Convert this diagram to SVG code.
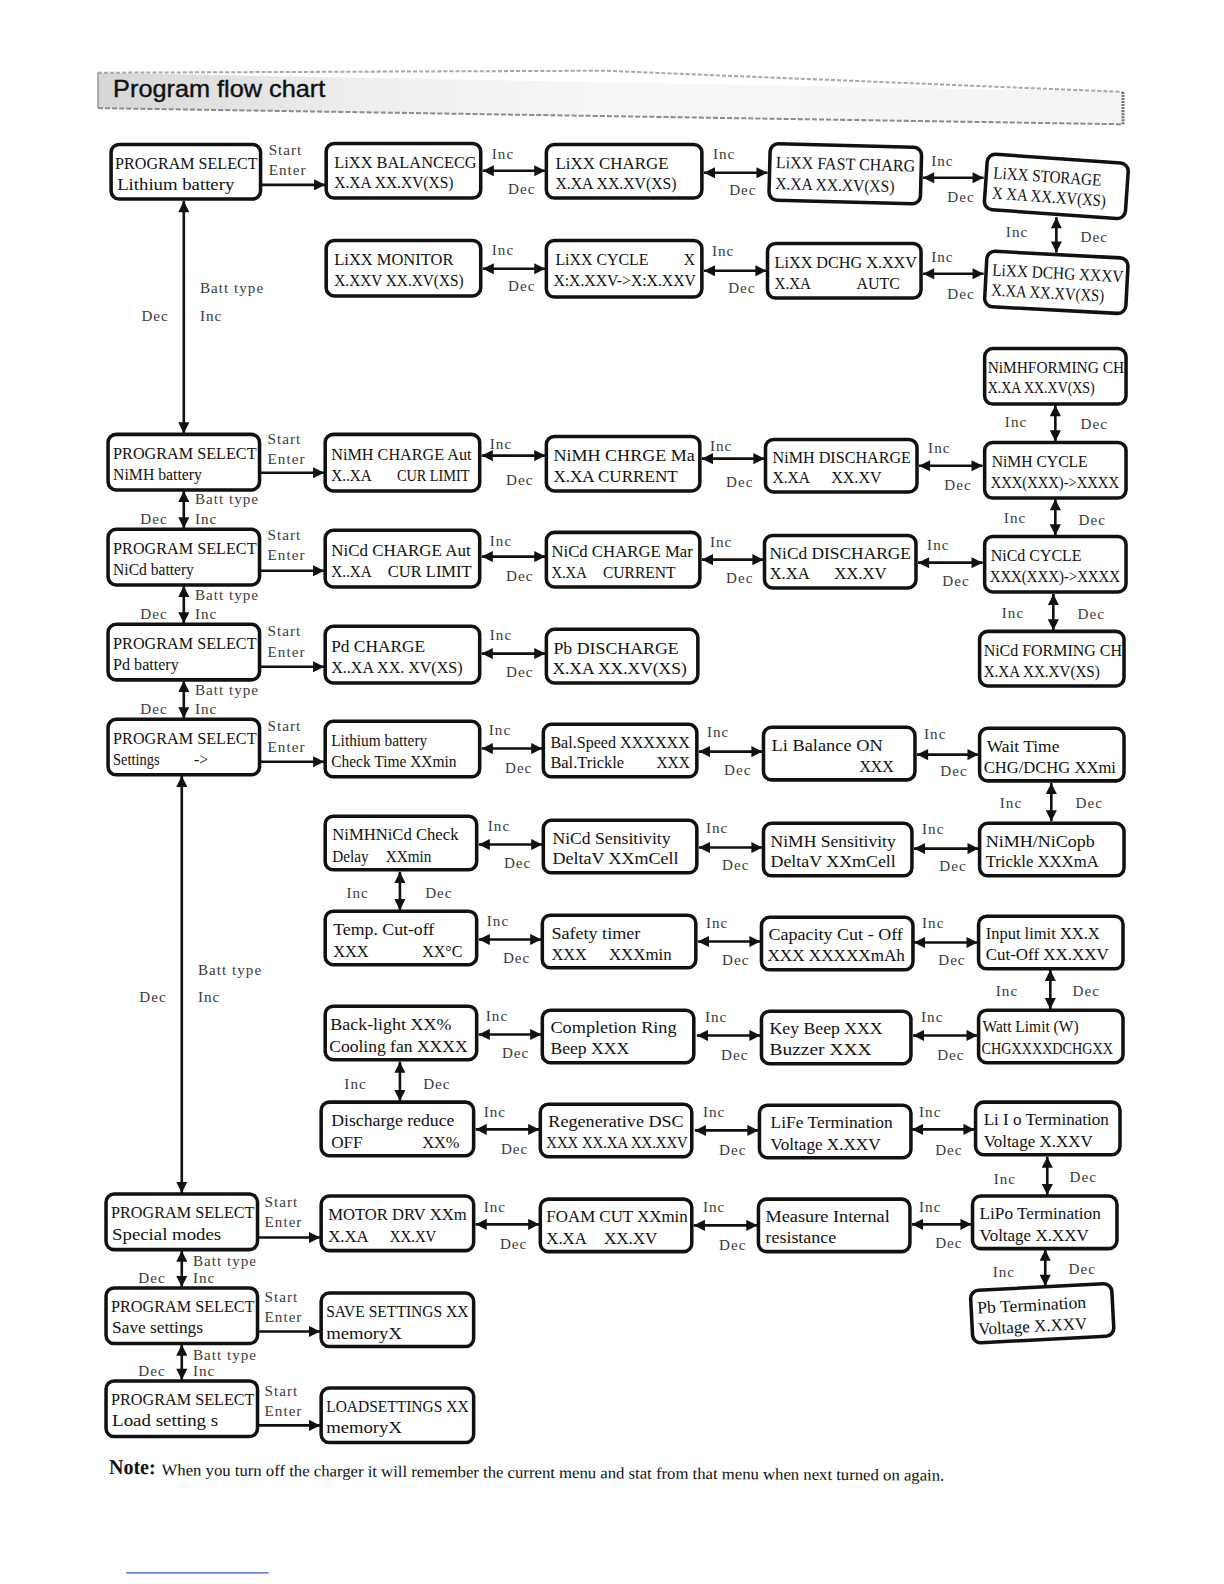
<svg xmlns="http://www.w3.org/2000/svg" width="1224" height="1584" viewBox="0 0 1224 1584">
<style>
.box{fill:#fff;stroke:#111;stroke-width:3.5}
.t{font-family:"Liberation Serif",serif;font-size:17px;fill:#111}
.lb{font-family:"Liberation Serif",serif;font-size:15px;fill:#3a3a3a;letter-spacing:1px}
.c{stroke:#111;stroke-width:2.6;fill:none}
.dbl{marker-start:url(#ah);marker-end:url(#ah)}
.one{marker-end:url(#ah)}
</style>
<defs>
<marker id="ah" viewBox="0 0 10 10" refX="10" refY="5" markerWidth="13" markerHeight="11" markerUnits="userSpaceOnUse" orient="auto-start-reverse"><path d="M0,0 L10,5 L0,10 z" fill="#111"/></marker>
<linearGradient id="hg" x1="0" y1="0" x2="1" y2="0"><stop offset="0" stop-color="#d6d6d6"/><stop offset="0.25" stop-color="#eeeeee"/><stop offset="0.5" stop-color="#f7f7f7"/><stop offset="1" stop-color="#f4f4f4"/></linearGradient>
</defs>
<rect width="1224" height="1584" fill="#fff"/>
<g transform="scale(1.0099,1.0102)">
<g id="header">
<polygon points="97,72 1112,91 1112,123 97,107" fill="url(#hg)"/>
<polyline points="97,72 600,70 1112,91" fill="none" stroke="#a8a8a8" stroke-width="2" stroke-dasharray="4,2"/>
<line x1="97" y1="107" x2="1112" y2="123" stroke="#8c8c8c" stroke-width="2" stroke-dasharray="5,2"/>
<line x1="97" y1="72" x2="97" y2="107" stroke="#999" stroke-width="1.5"/>
<line x1="1112" y1="91" x2="1112" y2="123" stroke="#777" stroke-width="3" stroke-dasharray="2,1"/>
<text x="112" y="96" font-family="'Liberation Sans',Arial,sans-serif" font-size="24" fill="#111" stroke="#111" stroke-width="0.4" textLength="210" lengthAdjust="spacingAndGlyphs">Program flow chart</text>
</g>

<g id="connectors">
<line class="c dbl" x1="182" y1="199" x2="182" y2="429"/>
<line class="c dbl" x1="182" y1="486" x2="182" y2="523"/>
<line class="c dbl" x1="182" y1="580" x2="182" y2="617"/>
<line class="c dbl" x1="182" y1="674" x2="182" y2="711"/>
<line class="c dbl" x1="180" y1="768" x2="180" y2="1181"/>
<line class="c dbl" x1="180" y1="1238" x2="180" y2="1274"/>
<line class="c dbl" x1="180" y1="1331" x2="180" y2="1366"/>
<text class="lb" x="198" y="290">Batt type</text><text class="lb" x="140" y="318">Dec</text><text class="lb" x="198" y="318">Inc</text>
<text class="lb" x="193" y="499">Batt type</text><text class="lb" x="139" y="519">Dec</text><text class="lb" x="193" y="519">Inc</text>
<text class="lb" x="193" y="594">Batt type</text><text class="lb" x="139" y="613">Dec</text><text class="lb" x="193" y="613">Inc</text>
<text class="lb" x="193" y="688">Batt type</text><text class="lb" x="139" y="707">Dec</text><text class="lb" x="193" y="707">Inc</text>
<text class="lb" x="196" y="965">Batt type</text><text class="lb" x="138" y="992">Dec</text><text class="lb" x="196" y="992">Inc</text>
<text class="lb" x="191" y="1253">Batt type</text><text class="lb" x="137" y="1270">Dec</text><text class="lb" x="191" y="1270">Inc</text>
<text class="lb" x="191" y="1346">Batt type</text><text class="lb" x="137" y="1362">Dec</text><text class="lb" x="191" y="1362">Inc</text>

<line class="c one" x1="259" y1="183" x2="322" y2="183"/><text class="lb" x="266" y="153">Start</text><text class="lb" x="266" y="173">Enter</text>
<line class="c one" x1="258" y1="468" x2="321" y2="468"/><text class="lb" x="265" y="440">Start</text><text class="lb" x="265" y="459">Enter</text>
<line class="c one" x1="258" y1="565" x2="321" y2="565"/><text class="lb" x="265" y="535">Start</text><text class="lb" x="265" y="554">Enter</text>
<line class="c one" x1="258" y1="660" x2="321" y2="660"/><text class="lb" x="265" y="630">Start</text><text class="lb" x="265" y="650">Enter</text>
<line class="c one" x1="258" y1="754" x2="321" y2="754"/><text class="lb" x="265" y="724">Start</text><text class="lb" x="265" y="744">Enter</text>
<line class="c one" x1="256" y1="1225" x2="317" y2="1225"/><text class="lb" x="262" y="1195">Start</text><text class="lb" x="262" y="1215">Enter</text>
<line class="c one" x1="256" y1="1318" x2="317" y2="1318"/><text class="lb" x="262" y="1289">Start</text><text class="lb" x="262" y="1309">Enter</text>
<line class="c one" x1="256" y1="1411" x2="317" y2="1411"/><text class="lb" x="262" y="1382">Start</text><text class="lb" x="262" y="1402">Enter</text>

<line class="c dbl" x1="478" y1="169" x2="540" y2="169"/><text class="lb" x="487" y="157">Inc</text><text class="lb" x="503" y="192">Dec</text>
<line class="c dbl" x1="697" y1="171" x2="760" y2="171"/><text class="lb" x="706" y="157">Inc</text><text class="lb" x="722" y="193">Dec</text>
<line class="c dbl" x1="914" y1="176" x2="974" y2="176"/><text class="lb" x="922" y="164">Inc</text><text class="lb" x="938" y="200">Dec</text>
<line class="c dbl" x1="478" y1="266" x2="540" y2="266"/><text class="lb" x="487" y="252">Inc</text><text class="lb" x="503" y="288">Dec</text>
<line class="c dbl" x1="697" y1="268" x2="759" y2="268"/><text class="lb" x="705" y="253">Inc</text><text class="lb" x="721" y="290">Dec</text>
<line class="c dbl" x1="914" y1="271" x2="974" y2="271"/><text class="lb" x="922" y="259">Inc</text><text class="lb" x="938" y="296">Dec</text>
<line class="c dbl" x1="1046" y1="215" x2="1046" y2="250"/><text class="lb" x="996" y="235">Inc</text><text class="lb" x="1070" y="240">Dec</text>
<line class="c dbl" x1="1045" y1="401" x2="1045" y2="437"/><text class="lb" x="995" y="423">Inc</text><text class="lb" x="1070" y="425">Dec</text>

<line class="c dbl" x1="477" y1="451" x2="540" y2="451"/><text class="lb" x="485" y="444">Inc</text><text class="lb" x="501" y="480">Dec</text>
<line class="c dbl" x1="695" y1="454" x2="757" y2="454"/><text class="lb" x="703" y="446">Inc</text><text class="lb" x="719" y="482">Dec</text>
<line class="c dbl" x1="910" y1="461" x2="973" y2="461"/><text class="lb" x="919" y="448">Inc</text><text class="lb" x="935" y="485">Dec</text>
<line class="c dbl" x1="1045" y1="494" x2="1045" y2="530"/><text class="lb" x="994" y="518">Inc</text><text class="lb" x="1068" y="520">Dec</text>

<line class="c dbl" x1="477" y1="551" x2="540" y2="551"/><text class="lb" x="485" y="540">Inc</text><text class="lb" x="501" y="575">Dec</text>
<line class="c dbl" x1="695" y1="554" x2="756" y2="554"/><text class="lb" x="703" y="541">Inc</text><text class="lb" x="719" y="577">Dec</text>
<line class="c dbl" x1="909" y1="557" x2="973" y2="557"/><text class="lb" x="918" y="544">Inc</text><text class="lb" x="933" y="580">Dec</text>
<line class="c dbl" x1="1043" y1="588" x2="1043" y2="624"/><text class="lb" x="992" y="612">Inc</text><text class="lb" x="1067" y="613">Dec</text>

<line class="c dbl" x1="477" y1="647" x2="540" y2="647"/><text class="lb" x="485" y="634">Inc</text><text class="lb" x="501" y="670">Dec</text>

<line class="c dbl" x1="477" y1="741" x2="537" y2="741"/><text class="lb" x="484" y="728">Inc</text><text class="lb" x="500" y="765">Dec</text>
<line class="c dbl" x1="692" y1="744" x2="755" y2="744"/><text class="lb" x="700" y="730">Inc</text><text class="lb" x="717" y="767">Dec</text>
<line class="c dbl" x1="908" y1="747" x2="969" y2="747"/><text class="lb" x="915" y="732">Inc</text><text class="lb" x="931" y="768">Dec</text>
<line class="c dbl" x1="1041" y1="775" x2="1041" y2="813"/><text class="lb" x="990" y="800">Inc</text><text class="lb" x="1065" y="800">Dec</text>

<line class="c dbl" x1="474" y1="836" x2="537" y2="836"/><text class="lb" x="483" y="823">Inc</text><text class="lb" x="499" y="859">Dec</text>
<line class="c dbl" x1="692" y1="839" x2="755" y2="839"/><text class="lb" x="699" y="825">Inc</text><text class="lb" x="715" y="861">Dec</text>
<line class="c dbl" x1="905" y1="840" x2="969" y2="840"/><text class="lb" x="913" y="826">Inc</text><text class="lb" x="930" y="862">Dec</text>
<line class="c dbl" x1="396" y1="863" x2="396" y2="901"/><text class="lb" x="343" y="889">Inc</text><text class="lb" x="421" y="889">Dec</text>

<line class="c dbl" x1="474" y1="930" x2="536" y2="930"/><text class="lb" x="482" y="917">Inc</text><text class="lb" x="498" y="953">Dec</text>
<line class="c dbl" x1="691" y1="932" x2="753" y2="932"/><text class="lb" x="699" y="919">Inc</text><text class="lb" x="715" y="955">Dec</text>
<line class="c dbl" x1="905" y1="933" x2="968" y2="933"/><text class="lb" x="913" y="919">Inc</text><text class="lb" x="929" y="955">Dec</text>
<line class="c dbl" x1="1040" y1="960" x2="1040" y2="999"/><text class="lb" x="986" y="986">Inc</text><text class="lb" x="1062" y="986">Dec</text>

<line class="c dbl" x1="474" y1="1024" x2="536" y2="1024"/><text class="lb" x="481" y="1011">Inc</text><text class="lb" x="497" y="1047">Dec</text>
<line class="c dbl" x1="690" y1="1025" x2="753" y2="1025"/><text class="lb" x="698" y="1012">Inc</text><text class="lb" x="714" y="1049">Dec</text>
<line class="c dbl" x1="904" y1="1025" x2="968" y2="1025"/><text class="lb" x="912" y="1012">Inc</text><text class="lb" x="928" y="1049">Dec</text>
<line class="c dbl" x1="396" y1="1051" x2="396" y2="1090"/><text class="lb" x="341" y="1078">Inc</text><text class="lb" x="419" y="1078">Dec</text>

<line class="c dbl" x1="471" y1="1118" x2="534" y2="1118"/><text class="lb" x="479" y="1106">Inc</text><text class="lb" x="496" y="1142">Dec</text>
<line class="c dbl" x1="688" y1="1119" x2="751" y2="1119"/><text class="lb" x="696" y="1106">Inc</text><text class="lb" x="712" y="1143">Dec</text>
<line class="c dbl" x1="903" y1="1118" x2="965" y2="1118"/><text class="lb" x="910" y="1106">Inc</text><text class="lb" x="926" y="1143">Dec</text>
<line class="c dbl" x1="1037" y1="1145" x2="1037" y2="1183"/><text class="lb" x="984" y="1172">Inc</text><text class="lb" x="1059" y="1170">Dec</text>

<line class="c dbl" x1="471" y1="1212" x2="534" y2="1212"/><text class="lb" x="479" y="1200">Inc</text><text class="lb" x="495" y="1236">Dec</text>
<line class="c dbl" x1="687" y1="1213" x2="750" y2="1213"/><text class="lb" x="696" y="1200">Inc</text><text class="lb" x="712" y="1237">Dec</text>
<line class="c dbl" x1="903" y1="1212" x2="962" y2="1212"/><text class="lb" x="910" y="1200">Inc</text><text class="lb" x="926" y="1235">Dec</text>
<line class="c dbl" x1="1035" y1="1237" x2="1035" y2="1273"/><text class="lb" x="983" y="1264">Inc</text><text class="lb" x="1058" y="1261">Dec</text>
</g>

<g id="n-ps-li"><rect class="box" x="110" y="143" width="148" height="54" rx="8"/><text class="t" x="114" y="167" textLength="141" lengthAdjust="spacingAndGlyphs">PROGRAM SELECT</text><text class="t" x="116" y="188" textLength="116" lengthAdjust="spacingAndGlyphs">Lithium battery</text></g>
<g id="n-li-bal"><rect class="box" x="323" y="142" width="153" height="54" rx="8"/><text class="t" x="331" y="166" textLength="141" lengthAdjust="spacingAndGlyphs">LiXX BALANCECG</text><text class="t" x="331" y="186" textLength="118" lengthAdjust="spacingAndGlyphs">X.XA XX.XV(XS)</text></g>
<g id="n-li-chg"><rect class="box" x="541" y="143" width="154" height="53" rx="8"/><text class="t" x="550" y="167" textLength="112" lengthAdjust="spacingAndGlyphs">LiXX CHARGE</text><text class="t" x="550" y="187" textLength="120" lengthAdjust="spacingAndGlyphs">X.XA XX.XV(XS)</text></g>
<g id="n-li-fast" transform="rotate(1.5,837,172)"><rect class="box" x="762" y="144" width="150" height="56" rx="8"/><text class="t" x="768" y="168" textLength="138" lengthAdjust="spacingAndGlyphs">LiXX FAST CHARG</text><text class="t" x="768" y="189" textLength="118" lengthAdjust="spacingAndGlyphs">X.XA XX.XV(XS)</text></g>
<g id="n-li-stor" transform="rotate(4,1046,184)"><rect class="box" x="976" y="157" width="140" height="55" rx="8"/><text class="t" x="983" y="181" textLength="107" lengthAdjust="spacingAndGlyphs">LiXX STORAGE</text><text class="t" x="983" y="201" textLength="113" lengthAdjust="spacingAndGlyphs">X XA XX.XV(XS)</text></g>
<g id="n-li-mon"><rect class="box" x="323" y="238" width="153" height="55" rx="8"/><text class="t" x="331" y="262" textLength="118" lengthAdjust="spacingAndGlyphs">LiXX MONITOR</text><text class="t" x="331" y="283" textLength="128" lengthAdjust="spacingAndGlyphs">X.XXV XX.XV(XS)</text></g>
<g id="n-li-cyc"><rect class="box" x="541" y="238" width="154" height="56" rx="8"/><text class="t" x="550" y="262" textLength="92" lengthAdjust="spacingAndGlyphs">LiXX CYCLE</text><text class="t" x="677" y="262" textLength="11" lengthAdjust="spacingAndGlyphs">X</text><text class="t" x="548" y="283" textLength="141" lengthAdjust="spacingAndGlyphs">X:X.XXV-&gt;X:X.XXV</text></g>
<g id="n-li-dchg1"><rect class="box" x="760" y="241" width="152" height="54" rx="8"/><text class="t" x="767" y="265" textLength="141" lengthAdjust="spacingAndGlyphs">LiXX DCHG X.XXV</text><text class="t" x="767" y="286" textLength="36" lengthAdjust="spacingAndGlyphs">X.XA</text><text class="t" x="848" y="286" textLength="43" lengthAdjust="spacingAndGlyphs">AUTC</text></g>
<g id="n-li-dchg2" transform="rotate(3,1046,279)"><rect class="box" x="976" y="252" width="140" height="55" rx="8"/><text class="t" x="982" y="276" textLength="130" lengthAdjust="spacingAndGlyphs">LiXX DCHG XXXV</text><text class="t" x="982" y="296" textLength="112" lengthAdjust="spacingAndGlyphs">X.XA XX.XV(XS)</text></g>
<g id="n-nimh-form"><rect class="box" x="975" y="345" width="140" height="55" rx="8"/><text class="t" x="978" y="369" textLength="135" lengthAdjust="spacingAndGlyphs">NiMHFORMING CH</text><text class="t" x="978" y="389" textLength="106" lengthAdjust="spacingAndGlyphs">X.XA XX.XV(XS)</text></g>

<g id="n-ps-nimh"><rect class="box" x="107" y="430" width="150" height="55" rx="8"/><text class="t" x="112" y="454" textLength="142" lengthAdjust="spacingAndGlyphs">PROGRAM SELECT</text><text class="t" x="112" y="475" textLength="88" lengthAdjust="spacingAndGlyphs">NiMH battery</text></g>
<g id="n-nimh-chga"><rect class="box" x="322" y="430" width="153" height="56" rx="8"/><text class="t" x="328" y="455" textLength="139" lengthAdjust="spacingAndGlyphs">NiMH CHARGE  Aut</text><text class="t" x="328" y="476" textLength="40" lengthAdjust="spacingAndGlyphs">X..XA</text><text class="t" x="393" y="476" textLength="72" lengthAdjust="spacingAndGlyphs">CUR LIMIT</text></g>
<g id="n-nimh-chgm"><rect class="box" x="541" y="432" width="152" height="54" rx="8"/><text class="t" x="548" y="456" textLength="140" lengthAdjust="spacingAndGlyphs">NiMH CHRGE Ma</text><text class="t" x="548" y="477" textLength="123" lengthAdjust="spacingAndGlyphs">X.XA  CURRENT</text></g>
<g id="n-nimh-dis"><rect class="box" x="758" y="435" width="150" height="52" rx="8"/><text class="t" x="765" y="458" textLength="137" lengthAdjust="spacingAndGlyphs">NiMH DISCHARGE</text><text class="t" x="765" y="478" textLength="37" lengthAdjust="spacingAndGlyphs">X.XA</text><text class="t" x="823" y="478" textLength="50" lengthAdjust="spacingAndGlyphs">XX.XV</text></g>
<g id="n-nimh-cyc"><rect class="box" x="975" y="438" width="140" height="55" rx="8"/><text class="t" x="982" y="462" textLength="95" lengthAdjust="spacingAndGlyphs">NiMH CYCLE</text><text class="t" x="981" y="483" textLength="127" lengthAdjust="spacingAndGlyphs">XXX(XXX)-&gt;XXXX</text></g>

<g id="n-ps-nicd"><rect class="box" x="107" y="524" width="150" height="55" rx="8"/><text class="t" x="112" y="548" textLength="142" lengthAdjust="spacingAndGlyphs">PROGRAM SELECT</text><text class="t" x="112" y="569" textLength="80" lengthAdjust="spacingAndGlyphs">NiCd battery</text></g>
<g id="n-nicd-chga"><rect class="box" x="322" y="525" width="153" height="56" rx="8"/><text class="t" x="328" y="550" textLength="138" lengthAdjust="spacingAndGlyphs">NiCd CHARGE Aut</text><text class="t" x="328" y="571" textLength="40" lengthAdjust="spacingAndGlyphs">X..XA</text><text class="t" x="384" y="571" textLength="83" lengthAdjust="spacingAndGlyphs">CUR LIMIT</text></g>
<g id="n-nicd-chgm"><rect class="box" x="541" y="527" width="152" height="54" rx="8"/><text class="t" x="546" y="551" textLength="140" lengthAdjust="spacingAndGlyphs">NiCd CHARGE Mar</text><text class="t" x="546" y="572" textLength="35" lengthAdjust="spacingAndGlyphs">X.XA</text><text class="t" x="597" y="572" textLength="72" lengthAdjust="spacingAndGlyphs">CURRENT</text></g>
<g id="n-nicd-dis"><rect class="box" x="757" y="530" width="150" height="52" rx="8"/><text class="t" x="762" y="553" textLength="140" lengthAdjust="spacingAndGlyphs">NiCd DISCHARGE</text><text class="t" x="762" y="573" textLength="40" lengthAdjust="spacingAndGlyphs">X.XA</text><text class="t" x="826" y="573" textLength="52" lengthAdjust="spacingAndGlyphs">XX.XV</text></g>
<g id="n-nicd-cyc"><rect class="box" x="975" y="531" width="140" height="55" rx="8"/><text class="t" x="981" y="555" textLength="90" lengthAdjust="spacingAndGlyphs">NiCd CYCLE</text><text class="t" x="980" y="576" textLength="129" lengthAdjust="spacingAndGlyphs">XXX(XXX)-&gt;XXXX</text></g>
<g id="n-nicd-form"><rect class="box" x="970" y="625" width="143" height="54" rx="8"/><text class="t" x="974" y="649" textLength="137" lengthAdjust="spacingAndGlyphs">NiCd FORMING CH</text><text class="t" x="974" y="670" textLength="115" lengthAdjust="spacingAndGlyphs">X.XA XX.XV(XS)</text></g>

<g id="n-ps-pb"><rect class="box" x="107" y="618" width="150" height="55" rx="8"/><text class="t" x="112" y="642" textLength="142" lengthAdjust="spacingAndGlyphs">PROGRAM SELECT</text><text class="t" x="112" y="663" textLength="65" lengthAdjust="spacingAndGlyphs">Pd battery</text></g>
<g id="n-pb-chg"><rect class="box" x="322" y="620" width="153" height="56" rx="8"/><text class="t" x="328" y="645" textLength="93" lengthAdjust="spacingAndGlyphs">Pd CHARGE</text><text class="t" x="328" y="666" textLength="130" lengthAdjust="spacingAndGlyphs">X..XA  XX. XV(XS)</text></g>
<g id="n-pb-dis"><rect class="box" x="541" y="623" width="150" height="53" rx="8"/><text class="t" x="548" y="647" textLength="124" lengthAdjust="spacingAndGlyphs">Pb DISCHARGE</text><text class="t" x="547" y="667" textLength="133" lengthAdjust="spacingAndGlyphs">X.XA  XX.XV(XS)</text></g>

<g id="n-ps-set"><rect class="box" x="107" y="712" width="150" height="55" rx="8"/><text class="t" x="112" y="736" textLength="142" lengthAdjust="spacingAndGlyphs">PROGRAM SELECT</text><text class="t" x="112" y="757" textLength="46" lengthAdjust="spacingAndGlyphs">Settings</text><text class="t" x="192" y="757" textLength="14" lengthAdjust="spacingAndGlyphs">-&gt;</text></g>
<g id="n-set-lichk"><rect class="box" x="322" y="714" width="153" height="55" rx="8"/><text class="t" x="328" y="738" textLength="95" lengthAdjust="spacingAndGlyphs">Lithium battery</text><text class="t" x="328" y="759" textLength="124" lengthAdjust="spacingAndGlyphs">Check Time XXmin</text></g>
<g id="n-set-bal"><rect class="box" x="538" y="717" width="152" height="52" rx="8"/><text class="t" x="545" y="740" textLength="138" lengthAdjust="spacingAndGlyphs">Bal.Speed XXXXXX</text><text class="t" x="545" y="760" textLength="73" lengthAdjust="spacingAndGlyphs">Bal.Trickle</text><text class="t" x="650" y="760" textLength="33" lengthAdjust="spacingAndGlyphs">XXX</text></g>
<g id="n-set-libal"><rect class="box" x="756" y="720" width="150" height="52" rx="8"/><text class="t" x="764" y="743" textLength="110" lengthAdjust="spacingAndGlyphs">Li  Balance  ON</text><text class="t" x="851" y="764" textLength="34" lengthAdjust="spacingAndGlyphs">XXX</text></g>
<g id="n-set-wait"><rect class="box" x="970" y="721" width="143" height="52" rx="8"/><text class="t" x="977" y="744" textLength="72" lengthAdjust="spacingAndGlyphs">Wait  Time</text><text class="t" x="974" y="765" textLength="131" lengthAdjust="spacingAndGlyphs">CHG/DCHG XXmi</text></g>

<g id="n-set-chk"><rect class="box" x="322" y="808" width="150" height="53" rx="8"/><text class="t" x="329" y="832" textLength="125" lengthAdjust="spacingAndGlyphs">NiMHNiCd Check</text><text class="t" x="329" y="853" textLength="36" lengthAdjust="spacingAndGlyphs">Delay</text><text class="t" x="382" y="853" textLength="45" lengthAdjust="spacingAndGlyphs">XXmin</text></g>
<g id="n-set-nicds"><rect class="box" x="538" y="812" width="152" height="52" rx="8"/><text class="t" x="547" y="835" textLength="117" lengthAdjust="spacingAndGlyphs">NiCd Sensitivity</text><text class="t" x="547" y="855" textLength="125" lengthAdjust="spacingAndGlyphs">DeltaV  XXmCell</text></g>
<g id="n-set-nimhs"><rect class="box" x="756" y="815" width="147" height="52" rx="8"/><text class="t" x="763" y="838" textLength="124" lengthAdjust="spacingAndGlyphs">NiMH Sensitivity</text><text class="t" x="763" y="858" textLength="124" lengthAdjust="spacingAndGlyphs">DeltaV  XXmCell</text></g>
<g id="n-set-trk"><rect class="box" x="970" y="815" width="143" height="52" rx="8"/><text class="t" x="976" y="838" textLength="108" lengthAdjust="spacingAndGlyphs">NiMH/NiCopb</text><text class="t" x="976" y="858" textLength="112" lengthAdjust="spacingAndGlyphs">Trickle  XXXmA</text></g>

<g id="n-set-temp"><rect class="box" x="322" y="902" width="150" height="53" rx="8"/><text class="t" x="330" y="926" textLength="100" lengthAdjust="spacingAndGlyphs">Temp. Cut-off</text><text class="t" x="330" y="947" textLength="35" lengthAdjust="spacingAndGlyphs">XXX</text><text class="t" x="418" y="947" textLength="40" lengthAdjust="spacingAndGlyphs">XX°C</text></g>
<g id="n-set-safe"><rect class="box" x="537" y="906" width="152" height="52" rx="8"/><text class="t" x="546" y="930" textLength="88" lengthAdjust="spacingAndGlyphs">Safety  timer</text><text class="t" x="546" y="950" textLength="35" lengthAdjust="spacingAndGlyphs">XXX</text><text class="t" x="603" y="950" textLength="62" lengthAdjust="spacingAndGlyphs">XXXmin</text></g>
<g id="n-set-cap"><rect class="box" x="754" y="908" width="150" height="52" rx="8"/><text class="t" x="761" y="931" textLength="133" lengthAdjust="spacingAndGlyphs">Capacity Cut - Off</text><text class="t" x="760" y="951" textLength="136" lengthAdjust="spacingAndGlyphs">XXX  XXXXXmAh</text></g>
<g id="n-set-inp"><rect class="box" x="969" y="907" width="143" height="52" rx="8"/><text class="t" x="976" y="930" textLength="113" lengthAdjust="spacingAndGlyphs">Input limit XX.X</text><text class="t" x="976" y="950" textLength="122" lengthAdjust="spacingAndGlyphs">Cut-Off XX.XXV</text></g>

<g id="n-set-back"><rect class="box" x="322" y="996" width="150" height="53" rx="8"/><text class="t" x="327" y="1020" textLength="120" lengthAdjust="spacingAndGlyphs">Back-light   XX%</text><text class="t" x="326" y="1041" textLength="137" lengthAdjust="spacingAndGlyphs">Cooling fan XXXX</text></g>
<g id="n-set-ring"><rect class="box" x="537" y="1000" width="150" height="52" rx="8"/><text class="t" x="545" y="1023" textLength="125" lengthAdjust="spacingAndGlyphs">Completion Ring</text><text class="t" x="545" y="1043" textLength="78" lengthAdjust="spacingAndGlyphs">Beep  XXX</text></g>
<g id="n-set-key"><rect class="box" x="754" y="1001" width="148" height="52" rx="8"/><text class="t" x="762" y="1024" textLength="112" lengthAdjust="spacingAndGlyphs">Key Beep  XXX</text><text class="t" x="762" y="1044" textLength="101" lengthAdjust="spacingAndGlyphs">Buzzer   XXX</text></g>
<g id="n-set-watt"><rect class="box" x="969" y="1000" width="143" height="52" rx="8"/><text class="t" x="973" y="1022" textLength="95" lengthAdjust="spacingAndGlyphs">Watt  Limit (W)</text><text class="t" x="972" y="1043" textLength="130" lengthAdjust="spacingAndGlyphs">CHGXXXXDCHGXX</text></g>

<g id="n-set-dis"><rect class="box" x="318" y="1091" width="151" height="53" rx="8"/><text class="t" x="328" y="1115" textLength="122" lengthAdjust="spacingAndGlyphs">Discharge  reduce</text><text class="t" x="328" y="1136" textLength="31" lengthAdjust="spacingAndGlyphs">OFF</text><text class="t" x="418" y="1136" textLength="37" lengthAdjust="spacingAndGlyphs">XX%</text></g>
<g id="n-set-regen"><rect class="box" x="535" y="1093" width="150" height="52" rx="8"/><text class="t" x="543" y="1116" textLength="134" lengthAdjust="spacingAndGlyphs">Regenerative  DSC</text><text class="t" x="541" y="1136" textLength="140" lengthAdjust="spacingAndGlyphs">XXX XX.XA XX.XXV</text></g>
<g id="n-set-life"><rect class="box" x="752" y="1094" width="150" height="52" rx="8"/><text class="t" x="763" y="1117" textLength="121" lengthAdjust="spacingAndGlyphs">LiFe  Termination</text><text class="t" x="763" y="1138" textLength="109" lengthAdjust="spacingAndGlyphs">Voltage  X.XXV</text></g>
<g id="n-set-liio"><rect class="box" x="966" y="1091" width="143" height="52" rx="8"/><text class="t" x="974" y="1114" textLength="124" lengthAdjust="spacingAndGlyphs">Li I o Termination</text><text class="t" x="974" y="1135" textLength="108" lengthAdjust="spacingAndGlyphs">Voltage  X.XXV</text></g>

<g id="n-ps-spec"><rect class="box" x="105" y="1182" width="150" height="55" rx="8"/><text class="t" x="110" y="1206" textLength="142" lengthAdjust="spacingAndGlyphs">PROGRAM SELECT</text><text class="t" x="111" y="1227" textLength="108" lengthAdjust="spacingAndGlyphs">Special  modes</text></g>
<g id="n-sp-motor"><rect class="box" x="318" y="1184" width="151" height="54" rx="8"/><text class="t" x="325" y="1208" textLength="137" lengthAdjust="spacingAndGlyphs">MOTOR DRV XXm</text><text class="t" x="325" y="1229" textLength="40" lengthAdjust="spacingAndGlyphs">X.XA</text><text class="t" x="386" y="1229" textLength="46" lengthAdjust="spacingAndGlyphs">XX.XV</text></g>
<g id="n-sp-foam"><rect class="box" x="535" y="1187" width="150" height="52" rx="8"/><text class="t" x="541" y="1210" textLength="140" lengthAdjust="spacingAndGlyphs">FOAM CUT XXmin</text><text class="t" x="541" y="1231" textLength="40" lengthAdjust="spacingAndGlyphs">X.XA</text><text class="t" x="598" y="1231" textLength="53" lengthAdjust="spacingAndGlyphs">XX.XV</text></g>
<g id="n-sp-res"><rect class="box" x="751" y="1187" width="150" height="52" rx="8"/><text class="t" x="758" y="1210" textLength="123" lengthAdjust="spacingAndGlyphs">Measure  Internal</text><text class="t" x="758" y="1230" textLength="70" lengthAdjust="spacingAndGlyphs">resistance</text></g>
<g id="n-set-lipo"><rect class="box" x="963" y="1184" width="143" height="52" rx="8"/><text class="t" x="970" y="1207" textLength="120" lengthAdjust="spacingAndGlyphs">LiPo Termination</text><text class="t" x="970" y="1228" textLength="108" lengthAdjust="spacingAndGlyphs">Voltage  X.XXV</text></g>
<g id="n-set-pbterm" transform="rotate(-3,1032,1300)"><rect class="box" x="962" y="1274" width="140" height="52" rx="8"/><text class="t" x="968" y="1297" textLength="108" lengthAdjust="spacingAndGlyphs">Pb Termination</text><text class="t" x="968" y="1318" textLength="108" lengthAdjust="spacingAndGlyphs">Voltage  X.XXV</text></g>

<g id="n-ps-save"><rect class="box" x="105" y="1275" width="150" height="55" rx="8"/><text class="t" x="110" y="1299" textLength="142" lengthAdjust="spacingAndGlyphs">PROGRAM SELECT</text><text class="t" x="111" y="1320" textLength="90" lengthAdjust="spacingAndGlyphs">Save settings</text></g>
<g id="n-save"><rect class="box" x="318" y="1280" width="151" height="53" rx="8"/><text class="t" x="323" y="1304" textLength="141" lengthAdjust="spacingAndGlyphs">SAVE SETTINGS XX</text><text class="t" x="323" y="1325" textLength="75" lengthAdjust="spacingAndGlyphs">memoryX</text></g>
<g id="n-ps-load"><rect class="box" x="105" y="1367" width="150" height="55" rx="8"/><text class="t" x="110" y="1391" textLength="142" lengthAdjust="spacingAndGlyphs">PROGRAM SELECT</text><text class="t" x="111" y="1412" textLength="105" lengthAdjust="spacingAndGlyphs">Load setting  s</text></g>
<g id="n-load"><rect class="box" x="318" y="1374" width="151" height="54" rx="8"/><text class="t" x="323" y="1398" textLength="141" lengthAdjust="spacingAndGlyphs">LOADSETTINGS XX</text><text class="t" x="323" y="1419" textLength="75" lengthAdjust="spacingAndGlyphs">memoryX</text></g>

<g id="note" transform="rotate(0.4,108,1459)">
<text x="108" y="1459" font-family="'Liberation Serif',serif" font-size="21" font-weight="bold" fill="#111" textLength="46" lengthAdjust="spacingAndGlyphs">Note:</text>
<text x="160" y="1460" font-family="'Liberation Serif',serif" font-size="16" fill="#111" textLength="775" lengthAdjust="spacingAndGlyphs">When you turn off the charger it will remember the current menu and stat from that menu when next turned on again.</text>
</g>
<line x1="125" y1="1557" x2="266" y2="1557" stroke="#3355cc" stroke-width="1.2"/>
</g>
</svg>
